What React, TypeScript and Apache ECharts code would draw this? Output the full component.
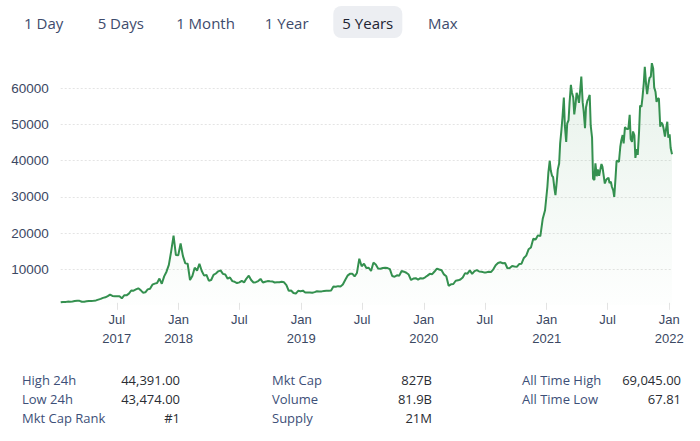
import React, { useEffect, useRef } from 'react';
import * as echarts from 'echarts';

// ---------- data ----------
const rangeButtons = ['1 Day', '5 Days', '1 Month', '1 Year', '5 Years', 'Max'];
const activeRange = '5 Years';

// weekly closes (USD), each block starts on the given Sunday
const start2017 = '2017-01-15';
const prices2017 = [
  820, 925, 920, 1020, 1000, 1055, 1180, 1275, 1230, 970, 965, 1100, 1190, 1185, 1250, 1350,
  1580, 1770, 2050, 2200, 2550, 2960, 2600, 2500, 2500, 2500, 1930, 2750, 2760, 3240, 4100, 4050,
  4380, 4700, 4200, 3500, 3600, 4400, 4600, 5700, 6000, 6150, 7400, 5950, 8000, 9300, 11200, 15000,
  19300, 13900, 13850,
];
const start2018 = '2018-01-07';
const prices2018 = [
  17100, 13600, 11600, 11500, 7000, 8100, 10400, 9600, 11500, 9500, 8200, 8400, 6800, 7000, 8400, 8800,
  9400, 9650, 8700, 8500, 7350, 7700, 6700, 6500, 6150, 6350, 6750, 6350, 7400, 8200, 7000, 6300,
  6400, 6700, 7300, 6300, 6500, 6700, 6630, 6600, 6300, 6400, 6350, 6500, 6350, 5600, 4000, 4100,
  3400, 3250, 4000, 3900,
];
const start2019 = '2019-01-06';
const prices2019 = [
  4050, 3550, 3550, 3550, 3450, 3650, 3900, 3850, 3850, 3950, 4020, 4000, 4100, 5200, 5150, 5300,
  5200, 5750, 7000, 8200, 8700, 8750, 8000, 8950, 12900, 10800, 11500, 10300, 10400, 9500, 11800, 11300,
  10200, 10100, 10300, 10400, 10300, 10000, 8100, 7900, 8300, 8200, 9500, 9300, 9000, 8500, 7000, 7400,
  7500, 7100, 7500, 7400,
];
const start2020 = '2020-01-05';
const prices2020 = [
  7750, 8200, 8700, 8600, 9350, 10150, 9900, 9700, 8550, 8050, 5400, 5800, 5900, 6800, 6900, 7150,
  7700, 8900, 8750, 9650, 8700, 9450, 9750, 9350, 9300, 9100, 9100, 9300, 9200, 9950, 11100, 11700,
  11900, 11650, 11700, 10250, 10350, 10900, 10750, 10650, 11400, 11500, 13100, 13750, 15500, 16000, 18400, 18200,
  19350, 19150, 23850, 26300,
];
const start2021 = '2021-01-03';
const prices2021 = [
  32800, 40000, 35800, 32300, 34300, 39250, 48700, 57500, 45200, 51200, 61000, 57500, 55800, 57600, 59900, 56200,
  49000, 56600, 58200, 46400, 34700, 35700, 35800, 39100, 35600, 34700, 35300, 34200, 31800, 35400, 39900, 43800,
  47100, 49300, 48800, 52700, 45200, 47000, 43200, 48200, 54900, 61500, 60900, 61300, 63300, 65500, 59000, 57200,
  49400, 50100, 46700, 50800,
];
// mid-week (Wednesday) closes for the volatile 2021 stretch
const startMid2021 = '2021-01-06';
const pricesMid2021 = [
  36800, 37300, 35500, 30500, 37600, 44800, 52100, 49700, 50300, 56000, 58900, 52800, 58800, 56000, 63300, 53800,
  54800, 57200, 49700, 35000, 39300, 37600, 37300, 38300, 33700, 35000, 33800, 32800, 30000, 40000, 39700, 45600,
  44800, 48900, 48800, 46000, 48100, 40800, 41600, 55300, 57400, 66000, 58400, 62900, 67000, 60300, 56300, 57200,
  50600, 48900, 48600, 46400,
];
const start2022 = '2022-01-02';
const prices2022 = [47300, 41800];
const startMid2022 = '2022-01-05';
const pricesMid2022 = [43500];

const yTicks = [10000, 20000, 30000, 40000, 50000, 60000];
const xTickDates = [
  '2017-07-01', '2018-01-01', '2018-07-01', '2019-01-01', '2019-07-01',
  '2020-01-01', '2020-07-01', '2021-01-01', '2021-07-01', '2022-01-01',
];

const statLabels1 = ['High 24h', 'Low 24h', 'Mkt Cap Rank'];
const statValues1 = ['44,391.00', '43,474.00', '#1'];
const statLabels2 = ['Mkt Cap', 'Volume', 'Supply'];
const statValues2 = ['827B', '81.9B', '21M'];
const statLabels3 = ['All Time High', 'All Time Low'];
const statValues3 = ['69,045.00', '67.81'];

// ---------- build ----------
const DAY = 86400000;
const blocks: [string, number[]][] = [
  [start2017, prices2017], [start2018, prices2018], [start2019, prices2019],
  [start2020, prices2020], [start2021, prices2021], [startMid2021, pricesMid2021],
  [start2022, prices2022], [startMid2022, pricesMid2022],
];
const seriesData: [number, number][] = [];
blocks.forEach(([s, vals]) => {
  const t0 = Date.parse(s + 'T00:00:00Z');
  vals.forEach((v, i) => seriesData.push([t0 + i * 7 * DAY, v]));
});
seriesData.sort((a, b) => a[0] - b[0]);
const xMin = seriesData[0][0];
const xMax = seriesData[seriesData.length - 1][0];
const xTicks = xTickDates.map((d) => Date.parse(d + 'T00:00:00Z'));

const MONTHS = ['Jan', 'Feb', 'Mar', 'Apr', 'May', 'Jun', 'Jul', 'Aug', 'Sep', 'Oct', 'Nov', 'Dec'];
const AXIS_COLOR = '#3b4863';
const AXIS_FONT = '"Liberation Sans", Arial, sans-serif';
const UI_FONT = '"Open Sans", "Noto Sans", sans-serif';
const LINE_COLOR = '#34904f';

function buildGraphic() {
  const els: any[] = [];
  const btnCenters = [43.7, 120.8, 205.5, 286.7, 367.8, 442.8];
  rangeButtons.forEach((b, i) => {
    const active = b === activeRange;
    if (active) {
      els.push({
        type: 'rect',
        shape: { x: btnCenters[i] - 34.5, y: 6, width: 69, height: 32, r: 8 },
        style: { fill: '#eceef2' },
        silent: true,
      });
    }
    els.push({
      type: 'text',
      x: btnCenters[i],
      y: 22.5,
      style: {
        text: b,
        fill: active ? '#1e2433' : '#3e4b6c',
        font: '15px ' + UI_FONT,
        align: 'center',
        verticalAlign: 'middle',
        textAlign: 'center',
        textVerticalAlign: 'middle',
      },
      silent: true,
    });
  });
  const cols: [string[], string[], number, number][] = [
    [statLabels1, statValues1, 22, 180],
    [statLabels2, statValues2, 272, 432],
    [statLabels3, statValues3, 522, 681],
  ];
  const rowY = [380, 399, 418];
  cols.forEach(([labels, values, lx, rx]) => {
    labels.forEach((l, r) => {
      els.push({
        type: 'text', x: lx, y: rowY[r],
        style: {
          text: l, fill: '#3d4f78', font: '13px ' + UI_FONT,
          align: 'left', verticalAlign: 'middle', textAlign: 'left', textVerticalAlign: 'middle',
        },
        silent: true,
      });
      els.push({
        type: 'text', x: rx, y: rowY[r],
        style: {
          text: values[r], fill: '#2a2d33', font: '13px ' + UI_FONT,
          align: 'right', verticalAlign: 'middle', textAlign: 'right', textVerticalAlign: 'middle',
        },
        silent: true,
      });
    });
  });
  return els;
}

export default function App() {
  const ref = useRef<HTMLDivElement>(null);
  useEffect(() => {
    if (!ref.current) return;
    const chart = echarts.init(ref.current, null, { renderer: 'svg' });
    const option: any = {
      animation: false,
      backgroundColor: '#ffffff',
      grid: { left: 60.7, top: 52.3, width: 611.3, height: 253, containLabel: false, outerBoundsMode: 'none' },
      xAxis: {
        type: 'value',
        min: xMin,
        max: xMax,
        offset: -2.5,
        axisLine: { show: false },
        splitLine: { show: false },
        axisTick: { show: true, customValues: xTicks, length: 7, lineStyle: { color: '#e3e3e3' } },
        axisLabel: {
          customValues: xTicks,
          margin: 6.7,
          color: AXIS_COLOR,
          fontSize: 13,
          fontFamily: AXIS_FONT,
          lineHeight: 19,
          formatter: (v: number) => {
            const d = new Date(v);
            const m = MONTHS[d.getUTCMonth()];
            const y = d.getUTCFullYear();
            if (m === 'Jan' || v === xTicks[0]) return m + '\n' + y;
            return m;
          },
        },
      },
      yAxis: {
        type: 'value',
        min: 0,
        max: 70000,
        interval: 10000,
        axisLine: { show: false },
        axisTick: { show: false },
        axisLabel: {
          showMinLabel: false,
          showMaxLabel: false,
          margin: 12,
          color: AXIS_COLOR,
          fontSize: 13.5,
          fontFamily: AXIS_FONT,
          formatter: (v: number) => (yTicks.indexOf(v) >= 0 ? String(v) : ''),
        },
        splitLine: {
          show: true,
          showMinLine: false,
          showMaxLine: false,
          lineStyle: { color: '#e4e4e4', type: [2, 2], width: 1 },
        },
      },
      series: [
        {
          type: 'line',
          data: seriesData,
          symbol: 'none',
          showSymbol: false,
          silent: true,
          lineStyle: { color: LINE_COLOR, width: 2 },
          areaStyle: {
            color: new echarts.graphic.LinearGradient(0, 0, 0, 1, [
              { offset: 0, color: 'rgba(52,144,79,0.17)' },
              { offset: 1, color: 'rgba(52,144,79,0.01)' },
            ]),
          },
        },
      ],
      graphic: buildGraphic(),
    };
    chart.setOption(option);
    return () => chart.dispose();
  }, []);
  return (
    <div
      ref={ref}
      style={{ position: 'fixed', left: 0, top: 0, width: 700, height: 441, background: '#fff' }}
    />
  );
}
